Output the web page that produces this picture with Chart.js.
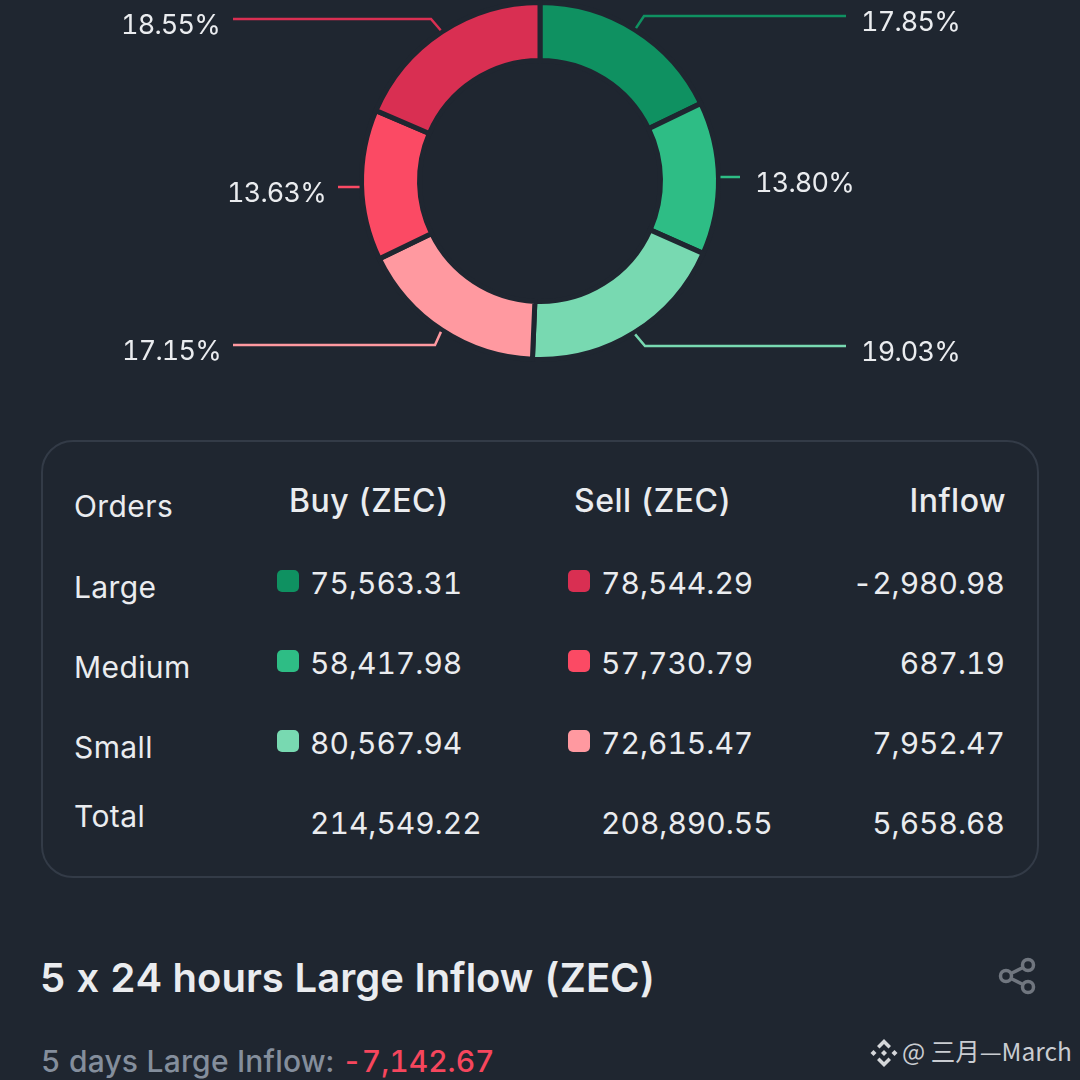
<!DOCTYPE html>
<html>
<head>
<meta charset="utf-8">
<script src="https://cdn.jsdelivr.net/npm/chart.js@4"></script>
<style>
  html, body { margin: 0; padding: 0; background: #1f2630; }
  body { position: relative; width: 1080px; height: 1080px; overflow: hidden; font-family: Inter, Lato, sans-serif; color: #eaecef; font-feature-settings: "calt" 0, "tnum" 1; }
  #dona { position: absolute; left: 0; top: 0; }
  #tarjeta { position: absolute; left: 41px; top: 440px; width: 994px; height: 434px; border: 2px solid #333b47; border-radius: 32px; }
  .txt { position: absolute; white-space: nowrap; line-height: 40px; height: 40px; }
  .fila { font-size: 30px; letter-spacing: 0.4px; }
  .valor { font-size: 30px; }
  .etiqueta { font-size: 27px; letter-spacing: -0.8px; }
  .cabecera { font-size: 32px; font-weight: 500; letter-spacing: 0.5px; }
  .muestra { position: absolute; width: 22px; height: 22px; border-radius: 5px; }
  #titulo { left: 40px; top: 958px; font-size: 40px; font-weight: 600; }
  #subtitulo { left: 41px; top: 1041px; font-size: 30px; font-weight: 500; color: #848e9c; letter-spacing: 0.2px; }
  #subtitulo span { color: #f6465d; letter-spacing: 0; }
  #marca { left: 902px; top: 1031px; font-family: "Noto Sans CJK SC", "Noto Sans", sans-serif; font-size: 24.5px; color: #c9ccd1; }
  svg { position: absolute; }
</style>
</head>
<body>
<canvas id="dona" width="1080" height="400"></canvas>
<div id="tarjeta"></div>
<div id="titulo" class="txt">5 x 24 hours Large Inflow (ZEC)</div>
<div id="subtitulo" class="txt">5 days Large Inflow: <span>-7,142.67</span></div>
<svg style="left:998px;top:957px" width="38" height="38" viewBox="0 0 38 38" fill="none" stroke="#70767f" stroke-width="3.5">
  <circle cx="8" cy="19" r="5.5"/><circle cx="30" cy="8" r="5.5"/><circle cx="30" cy="30" r="5.5"/>
  <path d="M13 16.5 L25 10.5 M13 21.5 L25 27.5"/>
</svg>
<svg style="left:870px;top:1039px" width="28" height="28" viewBox="0 0 28 28" fill="#d5d7da">
  <path d="M14 0 L21 7 L18.5 9.5 L14 5 L9.5 9.5 L7 7 Z"/>
  <path d="M14 28 L21 21 L18.5 18.5 L14 23 L9.5 18.5 L7 21 Z"/>
  <path d="M14 11 L17 14 L14 17 L11 14 Z"/>
  <path d="M3.5 11 L6.5 14 L3.5 17 L0.5 14 Z"/>
  <path d="M24.5 11 L27.5 14 L24.5 17 L21.5 14 Z"/>
</svg>
<div id="marca" class="txt">@ 三月—March</div>

<script>
const segmentos = ["Large Buy", "Medium Buy", "Small Buy", "Small Sell", "Medium Sell", "Large Sell"];
const porcentajes = [17.85, 13.80, 19.03, 17.15, 13.63, 18.55];
const colores = ["#0f9161", "#2ebd85", "#78d9b1", "#ff99a0", "#fb4a64", "#d92f52"];

const ordenes = ["Large", "Medium", "Small", "Total"];
const compras = ["75,563.31", "58,417.98", "80,567.94", "214,549.22"];
const ventas = ["78,544.29", "57,730.79", "72,615.47", "208,890.55"];
const entradas = ["-2,980.98", "687.19", "7,952.47", "5,658.68"];
const coloresCompra = ["#0f9161", "#2ebd85", "#78d9b1"];
const coloresVenta = ["#d92f52", "#fb4a64", "#ff99a0"];

// Donde va cada linea guia y su etiqueta
const guias = [
  { codoX: 644, codoY: 16, finX: 846, textoX: 861, textoY: 22 },
  { codoX: 720, codoY: 177, finX: 740, textoX: 755, textoY: 183 },
  { codoX: 645, codoY: 346, finX: 846, textoX: 861, textoY: 352 },
  { codoX: 435, codoY: 345, finX: 233, textoX: 221, textoY: 351 },
  { codoX: 360, codoY: 187, finX: 338, textoX: 326, textoY: 193 },
  { codoX: 431, codoY: 19, finX: 233, textoX: 220, textoY: 25 },
];

const lineasGuia = {
  id: "lineasGuia",
  afterDatasetsDraw(chart) {
    const ctx = chart.ctx;
    chart.getDatasetMeta(0).data.forEach((arco, i) => {
      const { x, y, startAngle, endAngle, outerRadius } = arco.getProps(["x", "y", "startAngle", "endAngle", "outerRadius"]);
      const medio = (startAngle + endAngle) / 2;
      const g = guias[i];
      const recto = i === 1 || i === 4;
      const ax = x + Math.cos(medio) * (outerRadius + 2);
      const ay = recto ? g.codoY : y + Math.sin(medio) * (outerRadius + 2);
      ctx.save();
      ctx.strokeStyle = colores[i];
      ctx.lineWidth = 2.5;
      ctx.beginPath();
      ctx.moveTo(ax, ay);
      if (!recto) ctx.lineTo(g.codoX, g.codoY);
      ctx.lineTo(g.finX, g.codoY);
      ctx.stroke();
      ctx.restore();
    });
  },
};

new Chart(document.getElementById("dona"), {
  type: "doughnut",
  data: {
    labels: segmentos,
    datasets: [{
      data: porcentajes,
      backgroundColor: colores,
      borderColor: "#1f2630",
      borderWidth: 5,
      borderJoinStyle: "miter",
      radius: 178.5,
      cutout: "67.5%",
    }],
  },
  options: {
    responsive: false,
    animation: false,
    devicePixelRatio: 1,
    layout: { padding: { bottom: 38 } },
    plugins: { legend: { display: false }, tooltip: { enabled: false } },
  },
  plugins: [lineasGuia],
});

function texto(contenido, clase, x, centroY, derecha) {
  const el = document.createElement("div");
  el.className = "txt " + clase;
  el.textContent = contenido;
  el.style.top = centroY - 20 + "px";
  if (derecha) el.style.right = 1080 - x + "px";
  else el.style.left = x + "px";
  document.body.appendChild(el);
}

function muestra(color, x, y) {
  const el = document.createElement("div");
  el.className = "muestra";
  el.style.background = color;
  el.style.left = x + "px";
  el.style.top = y + "px";
  document.body.appendChild(el);
}

// Etiquetas de porcentaje junto a cada linea guia
porcentajes.forEach((p, i) => {
  const g = guias[i];
  texto(p.toFixed(2) + "%", "etiqueta", g.textoX, g.textoY, g.finX < 540);
});

// La tabla de abajo
texto("Orders", "fila", 74, 506);
texto("Buy (ZEC)", "cabecera", 289, 501);
texto("Sell (ZEC)", "cabecera", 574, 501);
texto("Inflow", "cabecera", 1006, 501, true);

const filaY = [583, 663, 743, 823];
const nombreY = [587, 667, 747, 816];
ordenes.forEach((orden, i) => {
  texto(orden, "fila", 74, nombreY[i]);
  texto(compras[i], "valor", 310, filaY[i]);
  texto(ventas[i], "valor", 601, filaY[i]);
  texto(entradas[i], "valor", 1005, filaY[i], true);
  if (i < 3) {
    muestra(coloresCompra[i], 277, filaY[i] - 13);
    muestra(coloresVenta[i], 568, filaY[i] - 13);
  }
});
</script>
</body>
</html>
